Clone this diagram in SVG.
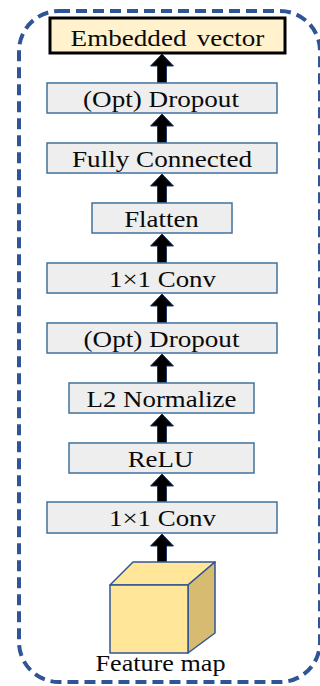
<svg xmlns="http://www.w3.org/2000/svg" width="320" height="686" viewBox="0 0 320 686">
  <style>
    .frame { fill: none; stroke: #2F5597; stroke-width: 4; stroke-dasharray: 11 6; }
    .box { fill: #EEEEEE; stroke: #41719C; stroke-width: 1.5; }
    .out { fill: #FFF2CC; stroke: #000000; stroke-width: 3; }
    .lbl { font-family: "Liberation Serif", "Times New Roman", serif; font-size: 24px; fill: #0A0A0A; text-anchor: middle; }
    .arrow { fill: #000000; stroke: #1F3864; stroke-width: 1; }
    .cube { stroke: #2F5597; stroke-width: 1.5; stroke-linejoin: round; }
  </style>

  <rect class="frame" x="19" y="11" width="301" height="671" rx="40" ry="40"/>

  <g id="connectors">
    <path class="arrow" d="M162,54 L173.5,66 L166.5,66 L166.5,83 L157.5,83 L157.5,66 L150.5,66 Z"/>
    <path class="arrow" d="M162,114 L173.5,126 L166.5,126 L166.5,143 L157.5,143 L157.5,126 L150.5,126 Z"/>
    <path class="arrow" d="M162,174 L173.5,186 L166.5,186 L166.5,203 L157.5,203 L157.5,186 L150.5,186 Z"/>
    <path class="arrow" d="M162,234 L173.5,246 L166.5,246 L166.5,263 L157.5,263 L157.5,246 L150.5,246 Z"/>
    <path class="arrow" d="M162,294 L173.5,306 L166.5,306 L166.5,323 L157.5,323 L157.5,306 L150.5,306 Z"/>
    <path class="arrow" d="M162,354 L173.5,366 L166.5,366 L166.5,383 L157.5,383 L157.5,366 L150.5,366 Z"/>
    <path class="arrow" d="M162,414 L173.5,426 L166.5,426 L166.5,443 L157.5,443 L157.5,426 L150.5,426 Z"/>
    <path class="arrow" d="M162,474 L173.5,486 L166.5,486 L166.5,502 L157.5,502 L157.5,486 L150.5,486 Z"/>
    <path class="arrow" d="M162,534 L173.5,546 L166.5,546 L166.5,562 L157.5,562 L157.5,546 L150.5,546 Z"/>
  </g>

  <!-- labels are set in a horizontally widened serif -->
  <g id="embedded-vector">
    <rect class="out" x="50" y="18" width="235" height="35"/>
    <text class="lbl" transform="translate(167.5,45.5) scale(1.13,1)" font-size="24.5" word-spacing="3">Embedded vector</text>
  </g>

  <g id="dropout-top">
    <rect class="box" x="47" y="83" width="230" height="30"/>
    <text class="lbl" transform="translate(161,107) scale(1.13,1)">(Opt) Dropout</text>
  </g>

  <g id="fully-connected">
    <rect class="box" x="47" y="143" width="230" height="30"/>
    <text class="lbl" transform="translate(162,167) scale(1.13,1)">Fully Connected</text>
  </g>

  <g id="flatten">
    <rect class="box" x="92" y="203" width="140" height="30"/>
    <text class="lbl" transform="translate(161.5,227) scale(1.12,1)">Flatten</text>
  </g>

  <g id="conv-top">
    <rect class="box" x="47" y="263" width="230" height="30"/>
    <text class="lbl" transform="translate(162.5,286.5) scale(1.12,1)">1×1 Conv</text>
  </g>

  <g id="dropout-bottom">
    <rect class="box" x="47" y="323" width="230" height="30"/>
    <text class="lbl" transform="translate(161.5,347) scale(1.13,1)">(Opt) Dropout</text>
  </g>

  <g id="l2-normalize">
    <rect class="box" x="69" y="383" width="185" height="30"/>
    <text class="lbl" transform="translate(161.5,406.5) scale(1.12,1)">L2 Normalize</text>
  </g>

  <g id="relu">
    <rect class="box" x="69" y="443" width="185" height="30"/>
    <text class="lbl" transform="translate(160.5,466.5) scale(1.12,1)">ReLU</text>
  </g>

  <g id="conv-bottom">
    <rect class="box" x="47" y="502" width="230" height="31"/>
    <text class="lbl" transform="translate(162.5,525.5) scale(1.12,1)">1×1 Conv</text>
  </g>

  <g id="feature-map">
    <polygon class="cube" fill="#FFE699" points="110,585 133,562 215,562 188,585"/>
    <polygon class="cube" fill="#D6BB70" points="188,585 215,562 215,633 188,653"/>
    <rect class="cube" fill="#FFE699" x="110" y="585" width="78" height="68"/>
    <text class="lbl" transform="translate(160.5,671) scale(1.09,1)" font-size="25">Feature map</text>
  </g>
</svg>
